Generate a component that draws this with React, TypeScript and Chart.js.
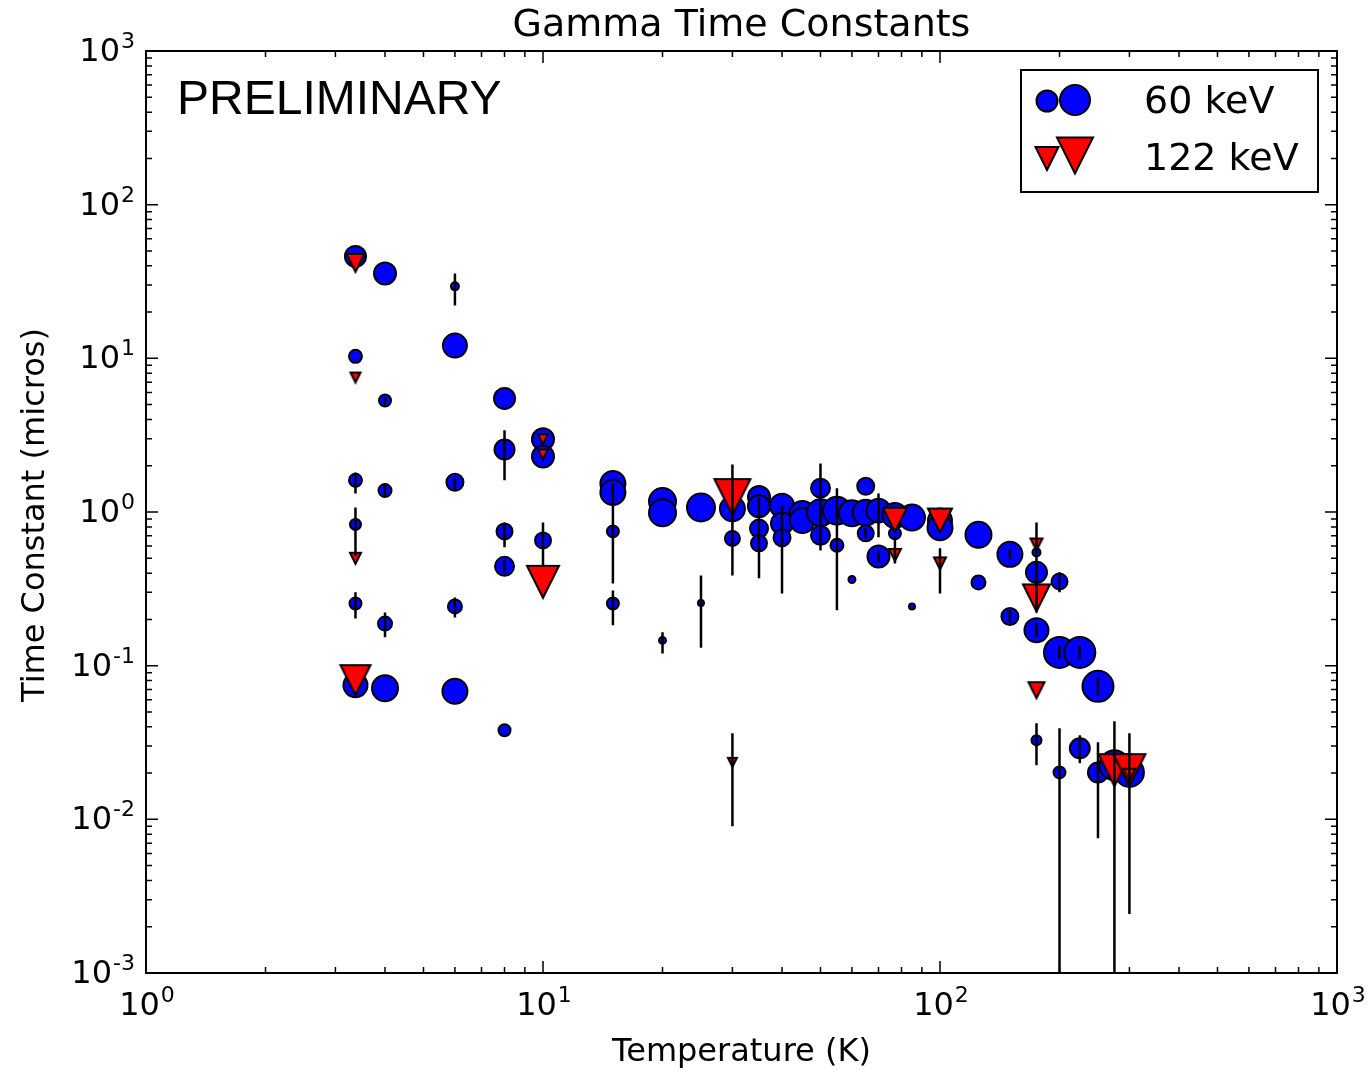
import React, { useEffect, useRef } from 'react';
import { Chart, registerables } from 'chart.js';

Chart.register(...registerables);

// ---------- data ----------
// 60 keV series: temperature (K), time constant (micros), relative amplitude (marker scale), error bar low / high
const temps60 = [
  3.37, 3.37, 3.37, 3.37, 3.37, 3.37,
  4, 4, 4, 4, 4,
  6, 6, 6, 6, 6,
  8, 8, 8, 8, 8,
  10, 10, 10,
  15, 15, 15, 15,
  20, 20, 20,
  25, 25,
  30, 30,
  35, 35, 35, 35,
  40, 40, 40,
  45, 45,
  50, 50, 50,
  55, 55,
  60, 60,
  65, 65, 65,
  70, 70,
  77, 77,
  85, 85,
  100, 100,
  125, 125,
  150, 150,
  175, 175, 175, 175,
  200, 200, 200,
  225, 225,
  250, 250,
  275,
  300,
];
const tau60 = [
  46.0, 10.3, 1.61, 0.83, 0.254, 0.0745,
  35.6, 5.32, 1.38, 0.188, 0.0713,
  29.4, 12.1, 1.56, 0.243, 0.0681,
  5.48, 2.55, 0.748, 0.443, 0.038,
  2.97, 2.30, 0.653,
  1.53, 1.34, 0.748, 0.254,
  1.17, 0.99, 0.146,
  1.07, 0.256,
  1.05, 0.673,
  1.25, 1.09, 0.78, 0.625,
  1.10, 0.843, 0.68,
  0.97, 0.88,
  1.43, 0.99, 0.705,
  1.02, 0.607,
  0.98, 0.364,
  1.47, 0.99, 0.726,
  1.02, 0.514,
  0.95, 0.726,
  0.92, 0.243,
  0.88, 0.79,
  0.71, 0.348,
  0.53, 0.209,
  0.546, 0.405, 0.170, 0.0327,
  0.353, 0.122, 0.0202,
  0.122, 0.029,
  0.0734, 0.0202,
  0.0225,
  0.0202,
];
const amp60 = [
  21, 13, 13, 11, 12, 24,
  22, 12, 13, 14, 26,
  8, 24, 17, 14, 25,
  21, 20, 16, 19, 12,
  22, 22, 16,
  25, 25, 12, 12,
  27, 27, 7,
  28, 6,
  25, 15,
  22, 22, 18, 16,
  24, 22, 17,
  26, 25,
  19, 27, 19,
  28, 13,
  26, 7,
  17, 26, 16,
  24, 22,
  25, 12,
  26, 6,
  24, 25,
  26, 14,
  25, 17,
  8, 21, 24, 10,
  16, 31, 12,
  31, 20,
  31, 20,
  30,
  29,
];
const errLo60 = [
  null, null, 1.32, 0.52, 0.203, null,
  null, 5.0, 1.27, 0.153, null,
  22.1, null, 1.38, 0.206, null,
  null, 1.61, 0.589, 0.40, null,
  null, null, 0.449,
  null, null, 0.343, 0.183,
  null, null, 0.120,
  null, 0.131,
  null, 0.386,
  null, null, null, 0.37,
  null, null, 0.295,
  null, null,
  null, null, 0.562,
  null, 0.229,
  null, null,
  null, null, 0.67,
  0.684, 0.47,
  null, null,
  null, null,
  null, null,
  null, null,
  0.49, 0.19,
  null, null, 0.153, 0.0225,
  0.300, 0.11, 0.0005,
  0.11, 0.0232,
  0.064, 0.00752,
  0.0005,
  null,
];
const errHi60 = [
  null, null, 1.81, 1.07, 0.30, null,
  null, 5.6, 1.53, 0.222, null,
  35.6, null, 1.68, 0.278, null,
  null, 3.40, 0.855, 0.49, null,
  null, null, 0.855,
  null, null, 1.53, 0.309,
  null, null, 0.165,
  null, 0.386,
  null, 2.04,
  null, null, null, 1.24,
  null, null, 1.10,
  null, null,
  null, null, 2.07,
  null, 1.43,
  null, null,
  null, null, 0.79,
  1.32, 0.56,
  null, null,
  null, null,
  null, null,
  null, null,
  0.57, 0.23,
  null, null, 0.19, 0.0422,
  0.405, 0.135, 0.0391,
  0.135, 0.0352,
  0.084, 0.0317,
  0.0435,
  null,
];

// 122 keV series
const temps122 = [3.37, 3.37, 3.37, 3.37, 10, 10, 10, 30, 30, 77, 77, 100, 100, 175, 175, 175, 275, 300, 300];
const tau122 = [41.8, 7.5, 0.50, 0.0805, 2.97, 2.37, 0.351, 1.25, 0.0235, 0.89, 0.526, 0.88, 0.463, 0.615, 0.276, 0.0692, 0.0209, 0.0209, 0.0195];
const amp122 = [18, 10, 11, 30, 10, 10, 32, 36, 9, 24, 12, 24, 12, 12, 27, 16, 32, 32, 12];
const errLo122 = [null, null, null, null, null, null, null, null, 0.00902, null, 0.463, null, 0.295, 0.222, null, null, null, 0.00242, null];
const errHi122 = [null, null, null, null, null, null, null, null, 0.0363, null, 0.69, null, 0.58, 0.855, null, null, null, 0.0363, null];

const seriesLabels = ['60 keV', '122 keV'];
const xTickValues = [1, 10, 100, 1000];
const yTickValues = [0.001, 0.01, 0.1, 1, 10, 100, 1000];
const titleText = 'Gamma Time Constants';
const xLabel = 'Temperature (K)';
const yLabel = 'Time Constant (micros)';
const stampText = 'PRELIMINARY';

// ---------- helpers ----------
const BLUE = '#0000ff';
const RED = '#ff0000';
const FONT = '"DejaVu Sans", sans-serif';
const EDGE = 2;

function triangleImage(w: number): HTMLCanvasElement {
  const s = Math.ceil(w + EDGE * 2 + 2);
  const c = document.createElement('canvas');
  c.width = s;
  c.height = s;
  const g = c.getContext('2d')!;
  const cx = s / 2;
  const cy = s / 2;
  const h = w / 2;
  g.beginPath();
  g.moveTo(cx - h, cy - h);
  g.lineTo(cx + h, cy - h);
  g.lineTo(cx, cy + h);
  g.closePath();
  g.fillStyle = RED;
  g.fill();
  g.lineJoin = 'miter';
  g.lineWidth = EDGE;
  g.strokeStyle = '#000';
  g.stroke();
  return c;
}

function buildErrorSegments() {
  const out: { x: number; y: number | null }[] = [];
  const add = (t: number[], lo: (number | null)[], hi: (number | null)[]) => {
    for (let i = 0; i < t.length; i++) {
      if (lo[i] != null && hi[i] != null) {
        out.push({ x: t[i], y: lo[i] as number });
        out.push({ x: t[i], y: hi[i] as number });
        out.push({ x: t[i], y: null });
      }
    }
  };
  add(temps60, errLo60, errHi60);
  add(temps122, errLo122, errHi122);
  return out;
}

function drawPow(ctx: CanvasRenderingContext2D, exp: string, x: number, baseline: number, align: 'center' | 'right') {
  ctx.font = `32px ${FONT}`;
  const wb = ctx.measureText('10').width;
  ctx.font = `22px ${FONT}`;
  const we = ctx.measureText(exp).width;
  const total = wb + 1 + we;
  const x0 = align === 'center' ? x - total / 2 : x - total;
  ctx.textAlign = 'left';
  ctx.textBaseline = 'alphabetic';
  ctx.fillStyle = '#000';
  ctx.font = `32px ${FONT}`;
  ctx.fillText('10', x0, baseline);
  ctx.font = `22px ${FONT}`;
  ctx.fillText(exp, x0 + wb + 1, baseline - 13);
}

const decorPlugin = {
  id: 'mplDecor',
  afterDraw(chart: any) {
    const ctx: CanvasRenderingContext2D = chart.ctx;
    const xs = chart.scales.x;
    const ys = chart.scales.y;
    const { left, right, top, bottom } = chart.chartArea;
    ctx.save();

    // frame
    ctx.strokeStyle = '#000';
    ctx.lineWidth = 2;
    ctx.strokeRect(left, top, right - left, bottom - top);

    // ticks (inward, all four sides)
    ctx.lineWidth = 1.5;
    const minorOf = (vals: number[]) => {
      const m: number[] = [];
      for (let i = 0; i < vals.length - 1; i++) {
        for (let k = 2; k <= 9; k++) m.push(vals[i] * k);
      }
      return m;
    };
    const xTick = (v: number, len: number) => {
      const px = xs.getPixelForValue(v);
      ctx.beginPath();
      ctx.moveTo(px, bottom);
      ctx.lineTo(px, bottom - len);
      ctx.moveTo(px, top);
      ctx.lineTo(px, top + len);
      ctx.stroke();
    };
    const yTick = (v: number, len: number) => {
      const py = ys.getPixelForValue(v);
      ctx.beginPath();
      ctx.moveTo(left, py);
      ctx.lineTo(left + len, py);
      ctx.moveTo(right, py);
      ctx.lineTo(right - len, py);
      ctx.stroke();
    };
    xTickValues.forEach((v) => xTick(v, 12));
    minorOf(xTickValues).forEach((v) => xTick(v, 6));
    yTickValues.forEach((v) => yTick(v, 12));
    minorOf(yTickValues).forEach((v) => yTick(v, 6));

    // tick labels
    xTickValues.forEach((v) => {
      const px = xs.getPixelForValue(v);
      drawPow(ctx, String(Math.round(Math.log10(v))), px + 1, 1015, 'center');
    });
    yTickValues.forEach((v) => {
      const py = ys.getPixelForValue(v);
      drawPow(ctx, String(Math.round(Math.log10(v))), 135, py + 10, 'right');
    });

    // title and axis labels
    ctx.fillStyle = '#000';
    ctx.textBaseline = 'alphabetic';
    ctx.textAlign = 'center';
    ctx.font = `38px ${FONT}`;
    ctx.fillText(titleText, (left + right) / 2, 36);
    ctx.font = `32px ${FONT}`;
    ctx.fillText(xLabel, (left + right) / 2, 1061);
    ctx.save();
    ctx.translate(44, (top + bottom) / 2 + 3);
    ctx.rotate(-Math.PI / 2);
    ctx.fillText(yLabel, 0, 0);
    ctx.restore();

    // stamp
    ctx.textAlign = 'left';
    ctx.font = '48px "Liberation Sans", Arial, sans-serif';
    ctx.fillText(stampText, 177, 114);

    // legend
    const lx = 1021, ly = 70, lw = 297, lh = 122;
    ctx.fillStyle = '#fff';
    ctx.fillRect(lx, ly, lw, lh);
    ctx.strokeStyle = '#000';
    ctx.lineWidth = 2;
    ctx.strokeRect(lx, ly, lw, lh);
    const circle = (cx: number, cy: number, r: number) => {
      ctx.beginPath();
      ctx.arc(cx, cy, r, 0, Math.PI * 2);
      ctx.fillStyle = BLUE;
      ctx.fill();
      ctx.lineWidth = EDGE;
      ctx.strokeStyle = '#000';
      ctx.stroke();
    };
    circle(1047, 101, 10.5);
    circle(1075, 100, 15);
    const tri = (cx: number, cy: number, w: number) => {
      const h = w / 2;
      ctx.beginPath();
      ctx.moveTo(cx - h, cy - h);
      ctx.lineTo(cx + h, cy - h);
      ctx.lineTo(cx, cy + h);
      ctx.closePath();
      ctx.fillStyle = RED;
      ctx.fill();
      ctx.lineWidth = EDGE;
      ctx.strokeStyle = '#000';
      ctx.stroke();
    };
    tri(1047, 158.5, 23);
    tri(1075, 155.5, 36);
    ctx.fillStyle = '#000';
    ctx.textAlign = 'left';
    ctx.font = `38px ${FONT}`;
    ctx.fillText(seriesLabels[0], 1144, 113);
    ctx.fillText(seriesLabels[1], 1144, 170);

    ctx.restore();
  },
};

export default function App() {
  const ref = useRef<HTMLCanvasElement | null>(null);

  useEffect(() => {
    if (!ref.current) return;
    const triImgs = amp122.map((a) => triangleImage(a));
    const chart = new Chart(ref.current, {
      type: 'scatter',
      data: {
        datasets: [
          {
            label: 'errors',
            data: buildErrorSegments() as any,
            showLine: true,
            spanGaps: false,
            borderColor: '#000',
            borderWidth: 2.5,
            pointRadius: 0,
            clip: 0,
            order: 0,
          } as any,
          {
            label: seriesLabels[1],
            data: temps122.map((t, i) => ({ x: t, y: tau122[i] })),
            pointStyle: (c: any) => triImgs[c.dataIndex],
            pointRadius: amp122.map((a) => a / 2),
            order: 1,
          } as any,
          {
            label: seriesLabels[0],
            data: temps60.map((t, i) => ({ x: t, y: tau60[i] })),
            pointStyle: 'circle',
            pointRadius: amp60.map((a) => a / 2),
            backgroundColor: BLUE,
            borderColor: '#000',
            borderWidth: EDGE,
            order: 2,
          } as any,
        ],
      },
      options: {
        animation: false,
        responsive: false,
        devicePixelRatio: 1,
        events: [],
        layout: { padding: { left: 146, top: 51, right: 31, bottom: 98 } },
        plugins: {
          legend: { display: false },
          tooltip: { enabled: false },
          title: { display: false },
        },
        scales: {
          x: { type: 'logarithmic', min: 1, max: 1000, display: false },
          y: { type: 'logarithmic', min: 0.001, max: 1000, display: false },
        },
      },
      plugins: [decorPlugin],
    });
    return () => chart.destroy();
  }, []);

  return (
    <div style={{ position: 'fixed', left: 0, top: 0, width: 1368, height: 1071, background: '#fff' }}>
      <canvas ref={ref} width={1368} height={1071} style={{ display: 'block' }} />
    </div>
  );
}
